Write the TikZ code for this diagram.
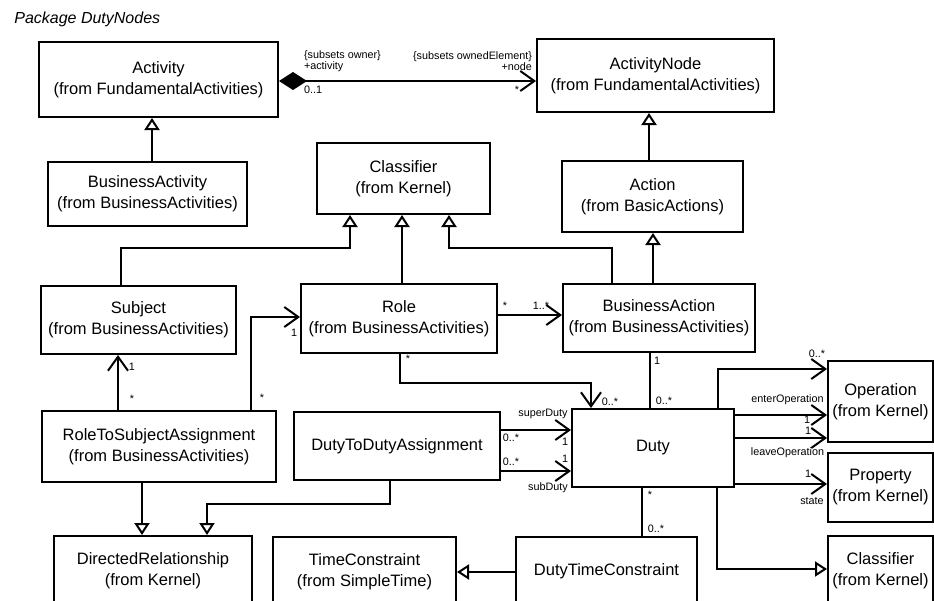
\documentclass[tikz,border=0pt]{standalone}
\usepackage{fontspec}
\setmainfont{Liberation Sans}
\usetikzlibrary{arrows.meta}

\begin{document}
\begin{tikzpicture}[x=1pt,y=-1pt,line width=2pt,
        cls/.style={rectangle,draw=black,align=center,inner sep=2pt,
          font=\fontsize{16.5}{21}\selectfont},
        lbl/.style={inner sep=0pt,font=\fontsize{10.8}{11}\selectfont},
        gen/.style={-{Triangle[open,length=12pt,width=15pt]}},
        nav/.style={-{Straight Barb[length=14pt,width=20pt]}},
        comp/.style={{Diamond[length=28pt,width=18pt]}-{Straight Barb[length=14pt,width=20pt]}}]
      \clip (0,0) rectangle (934,600);
      \node (title) at (10,23) [anchor=base west,font=\fontsize{16}{19}\selectfont\itshape] {Package DutyNodes};
      % classes
      \node (act) at (158.5,79.5) [cls,minimum width=239pt,minimum height=75pt] {Activity\\(from FundamentalActivities)};
      \node (bact) at (147.5,194) [cls,minimum width=199pt,minimum height=64pt] {BusinessActivity\\(from BusinessActivities)};
      \node (clsf) at (403.5,178.5) [cls,minimum width=173pt,minimum height=71pt] {Classifier\\(from Kernel)};
      \node (actnode) at (655.5,75.5) [cls,minimum width=237pt,minimum height=73pt] {ActivityNode\\(from FundamentalActivities)};
      \node (action) at (652.5,196.5) [cls,minimum width=181pt,minimum height=71pt] {Action\\(from BasicActions)};
      \node (subj) at (138.5,320) [cls,minimum width=195pt,minimum height=68pt] {Subject\\(from BusinessActivities)};
      \node (role) at (399,318.5) [cls,minimum width=196pt,minimum height=69pt] {Role\\(from BusinessActivities)};
      \node (bizact) at (659,318) [cls,minimum width=192pt,minimum height=68pt] {BusinessAction\\(from BusinessActivities)};
      \node (rtsa) at (159,446.5) [cls,minimum width=234pt,minimum height=71pt] {RoleToSubjectAssignment\\(from BusinessActivities)};
      \node (dtda) at (397,446) [cls,minimum width=206pt,minimum height=68pt] {DutyToDutyAssignment};
      \node (duty) at (653,448) [cls,minimum width=162pt,minimum height=78pt] {Duty};
      \node (oper) at (880.5,401.5) [cls,minimum width=105pt,minimum height=81pt] {Operation\\(from Kernel)};
      \node (prop) at (880.5,487.5) [cls,minimum width=105pt,minimum height=69pt] {Property\\(from Kernel)};
      \node (clsk) at (880.5,571) [cls,minimum width=105pt,minimum height=70pt] {Classifier\\(from Kernel)};
      \node (dirrel) at (153,571) [cls,minimum width=198pt,minimum height=70pt] {DirectedRelationship\\(from Kernel)};
      \node (timec) at (364.5,571.5) [cls,minimum width=183pt,minimum height=69pt] {TimeConstraint\\(from SimpleTime)};
      \node (dtc) at (606.5,571.5) [cls,minimum width=181pt,minimum height=69pt] {DutyTimeConstraint};
      % generalizations
      \draw[gen] (bact.north -| 152,0) -- (act.south -| 152,0);
      \draw[gen] (subj.north -| 121,0) |- (350,248) -- (clsf.south -| 350,0);
      \draw[gen] (role.north -| 402,0) -- (clsf.south -| 402,0);
      \draw[gen] (bizact.north -| 612,0) |- (449,248) -- (clsf.south -| 449,0);
      \draw[gen] (action.north -| 649,0) -- (actnode.south -| 649,0);
      \draw[gen] (bizact.north -| 653,0) -- (action.south -| 653,0);
      \draw[gen] (rtsa.south -| 142,0) -- (dirrel.north -| 142,0);
      \draw[gen] (dtda.south -| 390,0) |- (207,504) -- (dirrel.north -| 207,0);
      \draw[gen] (dtc.west |- 0,572) -- (timec.east |- 0,572);
      \draw[gen] (duty.south -| 717,0) |- (clsk.west |- 0,569);
      % associations
      \draw[comp] (act.east |- 0,81) -- (actnode.west |- 0,81);
      \draw[nav] (role.east |- 0,315) -- (bizact.west |- 0,315);
      \draw[nav] (rtsa.north -| 118,0) -- (subj.south -| 118,0);
      \draw[nav] (rtsa.north -| 251,0) |- (role.west |- 0,317);
      \draw[nav] (role.south -| 400,0) |- (591,383) -- (duty.north -| 591,0);
      \draw (bizact.south -| 650,0) -- (duty.north -| 650,0);
      \draw[nav] (dtda.east |- 0,430) -- (duty.west |- 0,430);
      \draw[nav] (dtda.east |- 0,471) -- (duty.west |- 0,471);
      \draw (duty.south -| 642,0) -- (dtc.north -| 642,0);
      \draw[nav] (duty.north -| 718,0) |- (oper.west |- 0,369);
      \draw[nav] (duty.east |- 0,415) -- (oper.west |- 0,415);
      \draw[nav] (duty.east |- 0,438) -- (oper.west |- 0,438);
      \draw[nav] (duty.east |- 0,484) -- (prop.west |- 0,484);
      % role names and multiplicities
      \node (l1) at (303,61.5) [lbl,anchor=west,align=left] {\{subsets owner\}\\+activity};
      \node (l2) at (303,90) [lbl,anchor=west] {0..1};
      \node (l3) at (533,61.5) [lbl,anchor=east,align=right] {\{subsets ownedElement\}\\+node};
      \node (l4) at (517,90) [lbl] {*};
      \node (l5) at (505,306) [lbl] {*};
      \node (l6) at (541,306) [lbl] {1..*};
      \node (l7) at (132,367) [lbl] {1};
      \node (l8) at (132,399) [lbl] {*};
      \node (l9) at (294,333) [lbl] {1};
      \node (l10) at (262,398) [lbl] {*};
      \node (l11) at (408,359) [lbl] {*};
      \node (l12) at (610,402) [lbl] {0..*};
      \node (l13) at (657,361) [lbl] {1};
      \node (l14) at (664,401) [lbl] {0..*};
      \node (l15) at (543,414) [lbl] {superDuty};
      \node (l16) at (511,438) [lbl] {0..*};
      \node (l17) at (565,442) [lbl] {1};
      \node (l18) at (511,462) [lbl] {0..*};
      \node (l19) at (565,459) [lbl] {1};
      \node (l20) at (548,488) [lbl] {subDuty};
      \node (l21) at (650,495) [lbl] {*};
      \node (l22) at (656,529) [lbl] {0..*};
      \node (l23) at (817,354) [lbl] {0..*};
      \node (l24) at (787.5,400) [lbl] {enterOperation};
      \node (l25) at (807,420) [lbl] {1};
      \node (l26) at (808,431) [lbl] {1};
      \node (l27) at (787.5,453) [lbl] {leaveOperation};
      \node (l28) at (808,474) [lbl] {1};
      \node (l29) at (812,501) [lbl] {state};
\end{tikzpicture}
\end{document}
